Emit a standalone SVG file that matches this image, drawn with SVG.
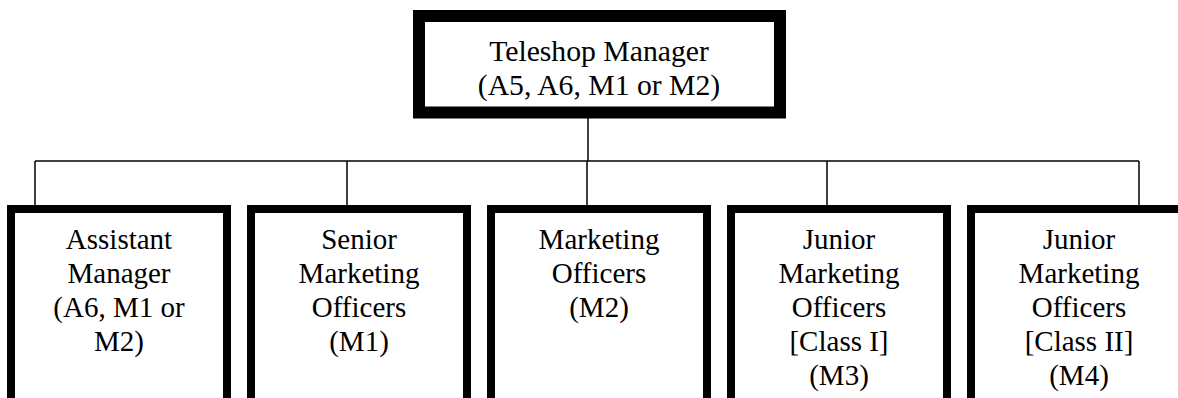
<svg xmlns="http://www.w3.org/2000/svg" width="1178" height="398" viewBox="0 0 1178 398">
  <style>
    .top { fill: #fff; stroke: #000; stroke-width: 12; }
    .box { fill: #fff; stroke: #000; stroke-width: 8; }
    .wire { fill: none; stroke: #000; stroke-width: 1.5; }
    text { font-family: "Liberation Serif", "Times New Roman", serif; font-size: 29px; fill: #000; text-anchor: middle; }
    .big { font-size: 29.7px; }
  </style>
  <rect width="1178" height="398" fill="#fff"/>

  <g id="connectors">
    <path class="wire" d="M588 118 V161"/>
    <path class="wire" d="M35 161 H1139"/>
    <path class="wire" d="M35 161 V206 M347 161 V206 M587 161 V206 M827 161 V206 M1139 161 V206"/>
  </g>

  <g id="teleshop-manager">
    <rect class="top" x="419" y="16" width="361" height="96.5"/>
    <text class="big" x="599" y="61">Teleshop Manager</text>
    <text class="big" x="599" y="95">(A5, A6, M1 or M2)</text>
  </g>

  <g id="assistant-manager">
    <rect class="box" x="11" y="209" width="216" height="220"/>
    <text x="119" y="249">Assistant</text>
    <text x="119" y="283">Manager</text>
    <text x="119" y="317">(A6, M1 or</text>
    <text x="119" y="351">M2)</text>
  </g>

  <g id="senior-marketing-officers">
    <rect class="box" x="251" y="209" width="216" height="220"/>
    <text x="359" y="249">Senior</text>
    <text x="359" y="283">Marketing</text>
    <text x="359" y="317">Officers</text>
    <text x="359" y="351">(M1)</text>
  </g>

  <g id="marketing-officers">
    <rect class="box" x="491" y="209" width="216" height="220"/>
    <text x="599" y="249">Marketing</text>
    <text x="599" y="283">Officers</text>
    <text x="599" y="317">(M2)</text>
  </g>

  <g id="junior-marketing-officers-class-1">
    <rect class="box" x="731" y="209" width="216" height="220"/>
    <text x="839" y="249">Junior</text>
    <text x="839" y="283">Marketing</text>
    <text x="839" y="317">Officers</text>
    <text x="839" y="351">[Class I]</text>
    <text x="839" y="385">(M3)</text>
  </g>

  <g id="junior-marketing-officers-class-2">
    <rect class="box" x="971" y="209" width="216" height="220"/>
    <text x="1079" y="249">Junior</text>
    <text x="1079" y="283">Marketing</text>
    <text x="1079" y="317">Officers</text>
    <text x="1079" y="351">[Class II]</text>
    <text x="1079" y="385">(M4)</text>
  </g>
</svg>
